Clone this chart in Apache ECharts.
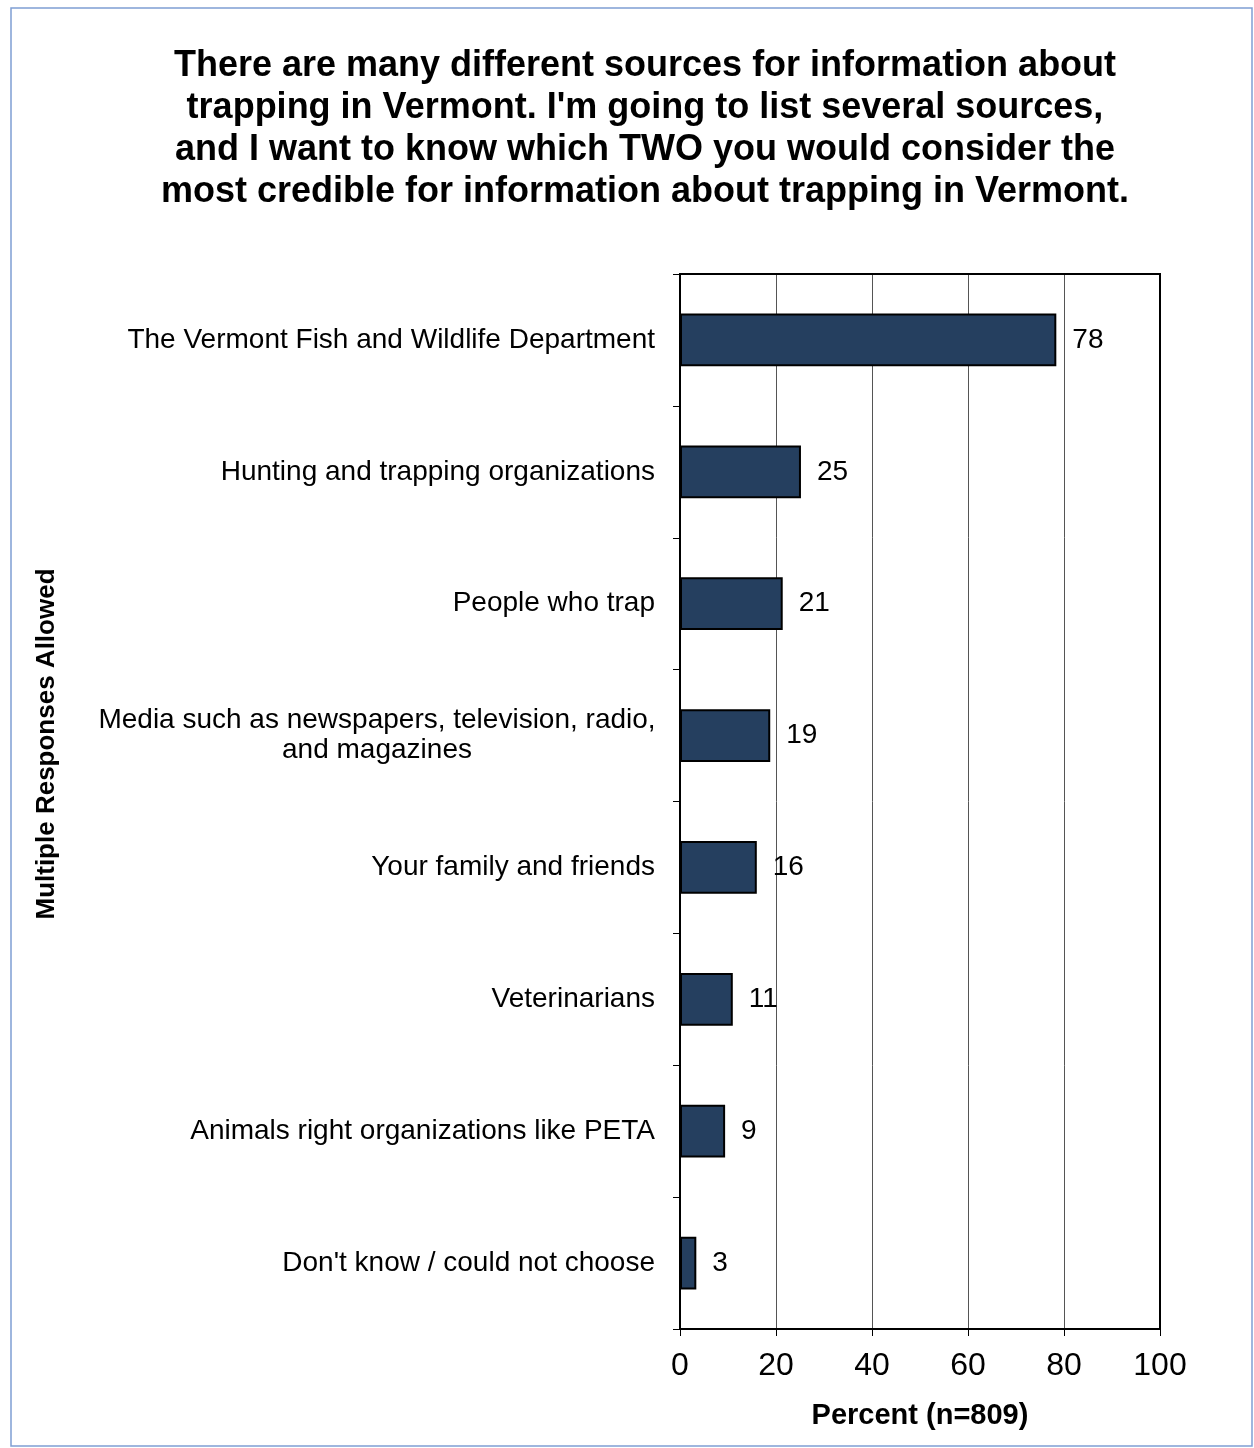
<!DOCTYPE html>
<html>
<head>
<meta charset="utf-8">
<script src="https://cdn.jsdelivr.net/npm/echarts@6/dist/echarts.min.js"></script>
<style>
html,body{margin:0;padding:0;background:#fff;}
#c{width:1254px;height:1448px;}
</style>
</head>
<body>
<div id="c"></div>
<script>
const titleText = "There are many different sources for information about\ntrapping in Vermont. I'm going to list several sources,\nand I want to know which TWO you would consider the\nmost credible for information about trapping in Vermont.";
const categories = [
  "The Vermont Fish and Wildlife Department",
  "Hunting and trapping organizations",
  "People who trap",
  "Media such as newspapers, television, radio,\nand magazines",
  "Your family and friends",
  "Veterinarians",
  "Animals right organizations like PETA",
  "Don't know / could not choose"
];
const values = [78.4, 25.2, 21.4, 18.8, 16.0, 11.0, 9.4, 3.4];
const xTicks = [0, 20, 40, 60, 80, 100];
const xAxisName = "Percent (n=809)";
const yAxisName = "Multiple Responses Allowed";

const font = "Liberation Sans, Arial, sans-serif";
const chart = echarts.init(document.getElementById('c'));
chart.setOption({
  backgroundColor: '#fff',
  animation: false,
  title: {
    text: titleText,
    left: 640,
    textAlign: 'center',
    top: 40,
    textStyle: { fontFamily: font, fontSize: 36, fontWeight: 'bold', color: '#000', lineHeight: 42 }
  },
  graphic: [
    { type: 'rect', shape: { x: 11, y: 8, width: 1241, height: 1438 }, style: { fill: 'none', stroke: '#7f9fd3', lineWidth: 1.5 }, z: 0 },
    { type: 'rect', shape: { x: 680, y: 274, width: 480, height: 1055 }, style: { fill: 'none', stroke: '#000', lineWidth: 2 }, z: 10 },
    { type: 'text', x: 47, y: 744, rotation: Math.PI / 2, style: { text: yAxisName, font: 'bold 26px ' + font, fill: '#000', align: 'center', verticalAlign: 'middle' } }
  ],
  grid: { left: 680, top: 274, width: 480, height: 1055, containLabel: false },
  xAxis: {
    type: 'value', min: 0, max: 100, interval: 20,
    name: xAxisName, nameLocation: 'middle', nameGap: 72,
    nameTextStyle: { fontFamily: font, fontSize: 29, fontWeight: 'bold', color: '#000' },
    axisLine: { show: true, lineStyle: { color: '#000', width: 2 } },
    axisTick: { show: true, length: 7, lineStyle: { color: '#000', width: 1 } },
    axisLabel: { fontFamily: font, fontSize: 32, color: '#000', margin: 21,
      formatter: v => xTicks.includes(v) ? String(v) : '' },
    splitLine: { show: true, lineStyle: { color: '#555', width: 1 } }
  },
  yAxis: {
    type: 'category', data: categories, inverse: true,
    axisLine: { show: true, lineStyle: { color: '#000', width: 2 } },
    axisTick: { show: true, length: 7, lineStyle: { color: '#000', width: 1 } },
    axisLabel: {
      margin: 25, align: 'right',
      formatter: v => v.indexOf('\n') >= 0 ? v.split('\n').map(s => '{m|' + s + '}').join('\n') : '{n|' + v + '}',
      rich: {
        n: { fontFamily: font, fontSize: 28, color: '#000' },
        m: { fontFamily: font, fontSize: 28, color: '#000', width: 556, align: 'center', lineHeight: 30 }
      }
    },
    splitLine: { show: false }
  },
  series: [{
    type: 'bar', data: values, barWidth: '40%',
    itemStyle: { color: '#253f5f', borderColor: '#000', borderWidth: 2 },
    label: { show: true, position: 'right', distance: 16, fontFamily: font, fontSize: 28, color: '#000',
      formatter: p => String(Math.round(p.value)) },
    z: 5
  }]
});
</script>
</body>
</html>
